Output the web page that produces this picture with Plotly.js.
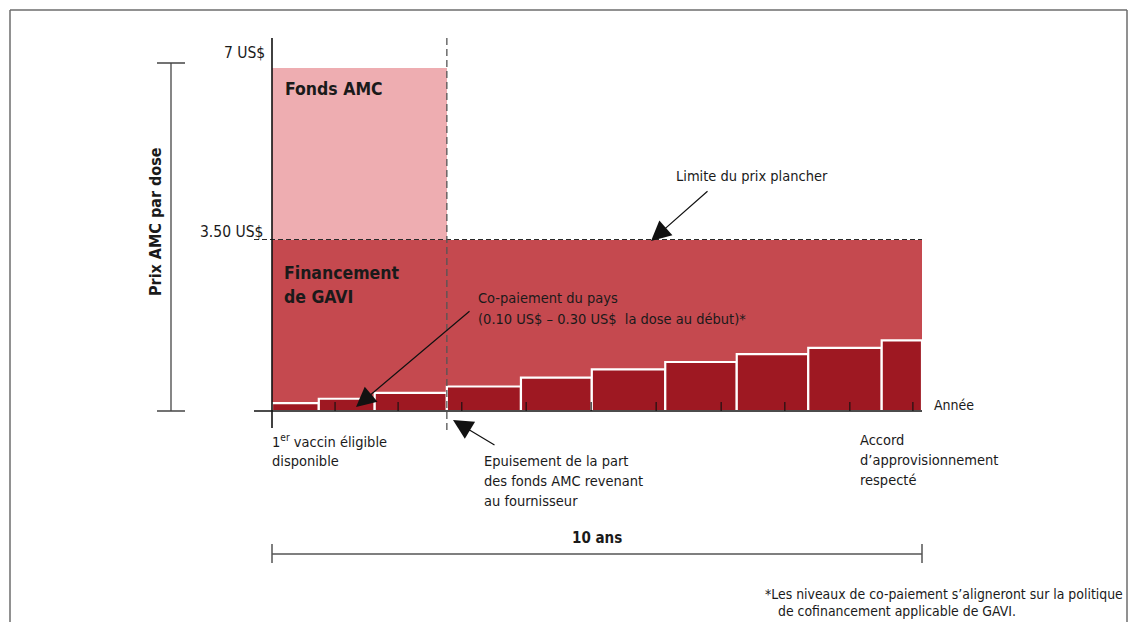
<!DOCTYPE html>
<html>
<head>
<meta charset="utf-8">
<script src="https://cdn.plot.ly/plotly-3.0.1.min.js"></script>
<style>
  html, body { margin: 0; padding: 0; background: #ffffff; }
  #chart { width: 1133px; height: 622px; }
</style>
</head>
<body>
<div id="chart"></div>
<script>
// ---------------- data ----------------
const yearEdges  = [0, 0.72, 1.58, 2.69, 3.83, 4.92, 6.05, 7.15, 8.25, 9.38, 10];   // copayment steps (years)
const copayment  = [0.16, 0.25, 0.37, 0.50, 0.68, 0.85, 1.00, 1.16, 1.29, 1.44];    // US$ per dose
const floorPrice = 3.5;      // US$ – price floor (GAVI funding)
const amcPrice   = 7;        // US$ – AMC price
const amcEndYear = 2.69;     // AMC supplier share exhausted
const horizonYears = 10;     // supply agreement
const tickYears  = [0.97, 1.94, 2.92, 3.91, 4.91, 5.91, 6.91, 7.89, 8.89, 9.86];
const priceTickValues = [amcPrice, floorPrice];
const priceTickLabels = ['7 US$', '3.50 US$'];

// ---------------- styling / geometry ----------------
const W = 1133, H = 622;
const ORIGIN_PX = 272, PX_PER_YEAR = 65;
const ZERO_PY = 411, PX_PER_USD = 49;
const X = px => (px - ORIGIN_PX) / PX_PER_YEAR;
const Y = py => (ZERO_PY - py) / PX_PER_USD;

const FONT = "'Liberation Sans Narrow', 'DejaVu Sans Condensed', 'Arial Narrow', sans-serif";
const TXT = '#1a1a1a';
const C_PINK = '#eeadb1', C_RED = '#c5494f', C_DARK = '#9e1822';
const FS = 14.5;   // regular text size

// ---------------- traces ----------------
const centers = copayment.map((_, i) => (yearEdges[i] + yearEdges[i + 1]) / 2);
const widths  = copayment.map((_, i) => yearEdges[i + 1] - yearEdges[i]);

const traces = [
  { type: 'bar', x: [horizonYears / 2], y: [floorPrice], base: [0], width: [horizonYears],
    marker: { color: C_RED, line: { width: 0 } }, hoverinfo: 'skip' },
  { type: 'bar', x: [amcEndYear / 2], y: [amcPrice - floorPrice], base: [floorPrice], width: [amcEndYear],
    marker: { color: C_PINK, line: { width: 0 } }, hoverinfo: 'skip' },
  { type: 'bar', x: centers, y: copayment, base: copayment.map(() => 0), width: widths,
    marker: { color: C_DARK, line: { color: '#ffffff', width: 2.2 } }, hoverinfo: 'skip' }
];

// ---------------- shapes ----------------
const line = (x0, y0, x1, y1, color, width, dash) => ({
  type: 'line', xref: 'x', yref: 'y', x0, y0, x1, y1,
  line: { color, width, dash: dash || 'solid' }, layer: 'above'
});
const shapes = [];
// outer frame
shapes.push(line(X(10), Y(H + 5), X(10), Y(10), '#6d6d6d', 1.5));
shapes.push(line(X(10), Y(10), X(1127), Y(10), '#6d6d6d', 1.5));
shapes.push(line(X(1127), Y(10), X(1127), Y(H + 5), '#6d6d6d', 1.5));
// price floor dashed line
shapes.push(line(X(254), floorPrice, horizonYears, floorPrice, '#2a2a2a', 1.2, '5px,3px'));
// AMC exhausted dashed vertical
shapes.push(line(amcEndYear, Y(38), amcEndYear, Y(430), '#555555', 1.3, '7px,4px'));
// axes
shapes.push(line(0, Y(38), 0, Y(428), '#111111', 1.6));
shapes.push(line(X(254), 0, horizonYears, 0, '#111111', 1.6));
// x ticks
tickYears.forEach(t => shapes.push(line(t, 0, t, Y(ZERO_PY - 9), '#111111', 1.1)));
// left bracket (price axis)
shapes.push(line(X(171), Y(63), X(171), Y(411), '#444444', 1.3));
shapes.push(line(X(157), Y(63), X(185), Y(63), '#444444', 1.5));
shapes.push(line(X(157), Y(411), X(185), Y(411), '#444444', 1.5));
// bottom 10-year bracket
shapes.push(line(0, Y(554), horizonYears, Y(554), '#555555', 1.6));
shapes.push(line(0, Y(544), 0, Y(563), '#555555', 1.5));
shapes.push(line(horizonYears, Y(544), horizonYears, Y(563), '#555555', 1.5));

// ---------------- annotations ----------------
const anns = [];
const reg = (size) => ({ family: FONT, size, color: TXT });
const bold = (size) => ({ family: FONT, size, color: TXT, weight: 'bold' });
const txt = (text, px, py, opt = {}) => anns.push(Object.assign({
  text, xref: 'x', yref: 'y', x: X(px), y: Y(py), showarrow: false,
  xanchor: 'left', yanchor: 'middle', font: reg(FS)
}, opt));
const arrow = (tx, ty, hx, hy) => anns.push({
  text: '', xref: 'x', yref: 'y', axref: 'x', ayref: 'y',
  x: X(hx), y: Y(hy), ax: X(tx), ay: Y(ty),
  showarrow: true, arrowhead: 2, arrowsize: 3.3, arrowwidth: 1.2, arrowcolor: '#111111', standoff: 0
});

// price tick labels
txt(priceTickLabels[0], 267, 0, { y: priceTickValues[0], yshift: 15, xanchor: 'right', font: reg(15.5) });
txt(priceTickLabels[1], 265, 0, { y: priceTickValues[1], yshift: 8, xanchor: 'right', font: reg(15.5) });
// axis title
txt('Prix AMC par dose', 155, 222, { xanchor: 'center', textangle: -90, font: bold(16) });
// region labels
txt('Fonds AMC', 283, 89, { font: bold(17.5) });
txt('Financement', 282, 273, { font: bold(17.5) });
txt('de GAVI', 282, 297, { font: bold(17.5) });
// price floor
txt('Limite du prix plancher', 674, 176);
arrow(709, 190, 651, 241);
// copayment
txt('Co-paiement du pays', 476, 298);
txt('(0.10 US$ \u2013 0.30 US$ \u00a0la dose au d\u00e9but)*', 476, 319);
arrow(471, 310, 356, 407);
// axis label
txt('Ann\u00e9e', 932, 405, { font: reg(14) });
// milestones
txt('1<sup>er</sup> vaccin \u00e9ligible', 270, 441);
txt('disponible', 270, 461);
txt('Epuisement de la part', 482, 461);
txt('des fonds AMC revenant', 482, 481);
txt('au fournisseur', 482, 501);
arrow(496, 446, 453, 420);
txt('Accord', 858, 440);
txt('d\u2019approvisionnement', 858, 460);
txt('respect\u00e9', 858, 480);
// 10-year bracket
txt('10 ans', 0, 538, { x: horizonYears / 2, xanchor: 'center', font: bold(15) });
// footnote
txt('*Les niveaux de co-paiement s\u2019aligneront sur la politique', 763, 594, { font: reg(13.9) });
txt('de cofinancement applicable de GAVI.', 776, 611, { font: reg(13.9) });

const layout = {
  width: W, height: H,
  margin: { l: 0, r: 0, t: 0, b: 0, pad: 0 },
  paper_bgcolor: '#ffffff', plot_bgcolor: '#ffffff',
  showlegend: false, barmode: 'overlay', bargap: 0,
  xaxis: { range: [X(0), X(W)], visible: false, fixedrange: true },
  yaxis: { range: [Y(H), Y(0)], visible: false, fixedrange: true },
  shapes, annotations: anns,
  font: { family: FONT, color: TXT }
};

Plotly.newPlot('chart', traces, layout, { staticPlot: true, displayModeBar: false });
</script>
</body>
</html>
